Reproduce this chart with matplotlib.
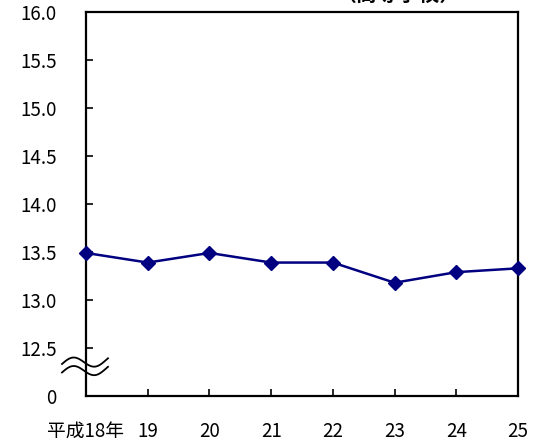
import numpy as np
import matplotlib
matplotlib.use("Agg")
import matplotlib.pyplot as plt

plt.rcParams['font.family'] = ['Noto Sans CJK JP', 'DejaVu Sans']

years = ["平成18年", "19", "20", "21", "22", "23", "24", "25"]
values = [13.49, 13.39, 13.49, 13.39, 13.39, 13.18, 13.29, 13.33]
yticks = [12.0, 12.5, 13.0, 13.5, 14.0, 14.5, 15.0, 15.5, 16.0]
ytick_labels = ["0", "12.5", "13.0", "13.5", "14.0", "14.5", "15.0", "15.5", "16.0"]
title = "（高等学校）"

fig = plt.figure(figsize=(5.39, 4.41), dpi=100)
ax = fig.add_axes([86/539, 1-396/441, (518-86)/539, (396-12)/441])

x = np.arange(len(years))
ax.plot(x, values, color='#000080', lw=1.8, marker='D', ms=7,
        markerfacecolor='#000080', markeredgecolor='#000080', clip_on=False, zorder=5)

ax.set_xlim(0, len(years) - 1)
ax.set_ylim(12.0, 16.0)
ax.set_yticks(yticks)
ax.set_yticklabels(ytick_labels, fontsize=13.5)
ax.set_xticks(x)
ax.set_xticklabels(years, fontsize=13.5)
ax.tick_params(axis='y', direction='in', length=5, width=1.2, pad=21)
ax.tick_params(axis='x', direction='in', length=5, width=1.2, pad=18)
for s in ax.spines.values():
    s.set_linewidth(1.6)

# axis break marks (decoration)
t = np.linspace(0, 1, 80)
for off in (0, 8.5):
    xs = 62 + 46*t
    ys = 364 + off - 5.5*np.sin(2*np.pi*1.05*t) - 4*t
    fig.add_artist(matplotlib.lines.Line2D(xs/539, 1 - ys/441, color='black', lw=1.3))

fig.text(398/539, 1 - 5/441, title, ha='center', va='bottom',
         fontsize=15, fontweight='bold')

fig.savefig("out.png", dpi=100)
